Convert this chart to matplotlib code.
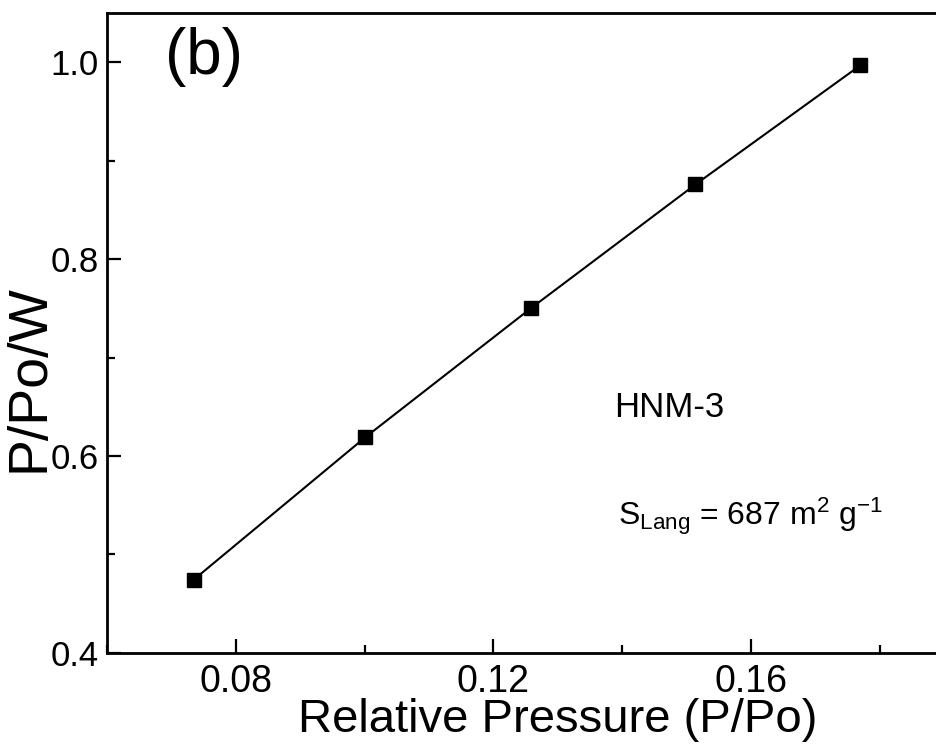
import numpy as np
import matplotlib
matplotlib.use("Agg")
import matplotlib.pyplot as plt
from matplotlib.ticker import MultipleLocator

# Langmuir plot data
rel_p = [0.0734, 0.1001, 0.1258, 0.1514, 0.1770]
p_w = [0.474, 0.619, 0.750, 0.876, 0.997]

plt.rcParams["font.family"] = ["Liberation Sans", "DejaVu Sans"]
plt.rcParams["mathtext.fontset"] = "custom"
plt.rcParams["mathtext.rm"] = "Liberation Sans"
plt.rcParams["mathtext.it"] = "Liberation Sans"

fig = plt.figure(figsize=(9.36, 7.46), dpi=100)
# axes frame runs past the right edge of the picture, as in the original
ax = fig.add_axes([0.1146, 0.1251, 0.9626, 0.8571])

ax.plot(rel_p, p_w, color="black", lw=1.5, marker="s", ms=9.5)

ax.set_xlim(0.06, 0.20)
ax.set_ylim(0.4, 1.05)
ax.xaxis.set_minor_locator(MultipleLocator(0.02))
ax.yaxis.set_minor_locator(MultipleLocator(0.1))
ax.set_xticks([0.08, 0.12, 0.16])
ax.set_xticklabels(["0.08", "0.12", "0.16"])
ax.set_yticks([0.4, 0.6, 0.8, 1.0])
ax.set_yticklabels(["0.4", "0.6", "0.8", "1.0"])

for s in ax.spines.values():
    s.set_linewidth(2.0)
ax.tick_params(which="major", direction="in", length=10, width=1.6, pad=8)
ax.tick_params(which="minor", direction="in", length=6, width=1.6)
ax.tick_params(axis="x", labelsize=27)
ax.tick_params(axis="y", labelsize=25, pad=6)

ax.set_xlabel("Relative Pressure (P/Po)", fontsize=34, labelpad=-1)
ax.set_ylabel("P/Po/W", fontsize=40)
ax.yaxis.set_label_coords(-0.057, 0.43)

ax.text(0.069, 1.006, "(b)", fontsize=46, va="center")
ax.text(0.1388, 0.64, "HNM-3", fontsize=25, va="baseline")
ax.text(0.1394, 0.53, r"S$_{\mathrm{Lang}}$ = 687 m$^2$ g$^{-1}$", fontsize=23, va="baseline")

plt.savefig("out.png", dpi=100)
